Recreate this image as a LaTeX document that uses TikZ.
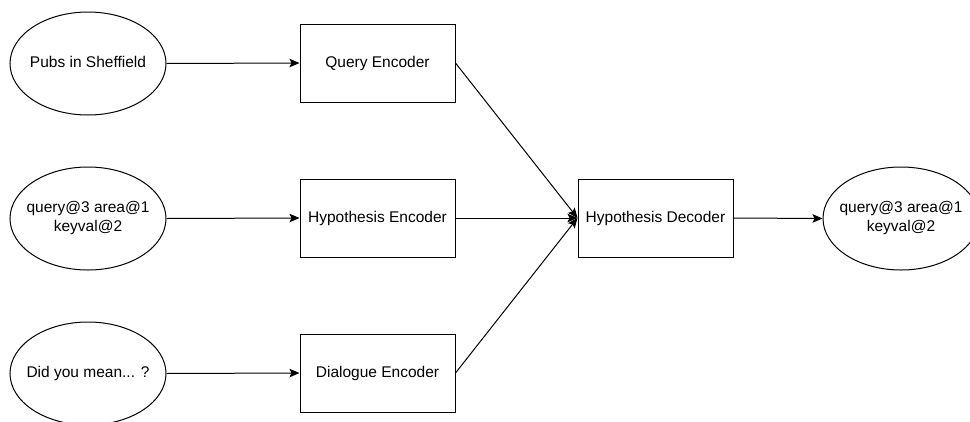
\documentclass[tikz,border=0pt]{standalone}
\usepackage{fontspec}
\setmainfont{Liberation Sans}
\usetikzlibrary{arrows.meta,shapes.geometric}
\newcommand{\ovaltext}[1]{\makebox[0pt]{\begin{tabular}{@{}c@{}}#1\end{tabular}}}
\begin{document}
\begin{tikzpicture}[x=1pt,y=-1pt,
  every node/.style={font=\fontsize{15.5}{19}\selectfont, inner sep=0pt, text=black},
  oval/.style={draw, ellipse, line width=1pt, minimum width=156pt, minimum height=103pt},
  box/.style={draw, rectangle, line width=1pt, minimum width=155pt, minimum height=78pt},
  conn/.style={-{Stealth[length=10pt,width=8.5pt,inset=2pt]}, line width=1pt}]
\useasboundingbox (0,0) rectangle (970,421);
\node[oval] (p) at (88,63.5) {\ovaltext{Pubs in Sheffield}};
\node[oval] (h) at (88,218.5) {\ovaltext{query@3 area@1\\keyval@2}};
\node[oval] (d) at (88,373.5) {\ovaltext{Did you mean... ?}};
\node[box] (qe) at (377.5,63) {Query Encoder};
\node[box] (he) at (377.5,218) {Hypothesis Encoder};
\node[box] (de) at (377.5,373) {Dialogue Encoder};
\node[box] (hd) at (655.5,218) {Hypothesis Decoder};
\node[oval] (o) at (901,218.5) {\ovaltext{query@3 area@1\\keyval@2}};
\draw[conn] (p.east) -- (qe.west);
\draw[conn] (h.east) -- (he.west);
\draw[conn] (d.east) -- (de.west);
\draw[conn] (qe.east) -- (hd.west);
\draw[conn] (he.east) -- (hd.west);
\draw[conn] (de.east) -- (hd.west);
\draw[conn] (hd.east) -- (o.west);
\end{tikzpicture}
\end{document}
